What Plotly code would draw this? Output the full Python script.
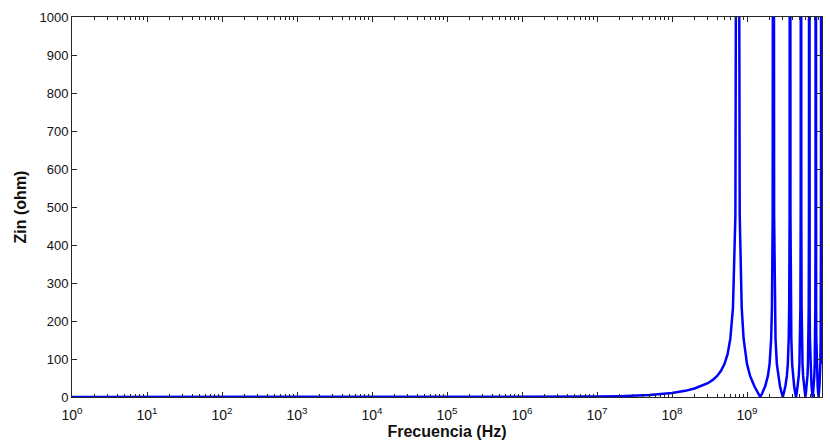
import plotly.graph_objects as go

# Input impedance magnitude of the line versus frequency (Hz, ohm)
freq_hz = [
    1e0, 1e1, 1e2, 1e3, 1e4, 1e5, 1e6, 1e7, 2e7, 5e7,
    1.0e8, 1.5e8, 2.0e8, 2.5e8, 3.0e8, 3.5e8, 4.0e8, 4.5e8, 5.0e8, 5.5e8,
    6.0e8, 6.5e8, 7.0e8, 7.5e8, 8.0e8, 8.5e8, 9.0e8, 1.0e9, 1.1e9, 1.25e9,
    1.4e9, 1.5e9,
    1.6e9, 1.75e9, 1.9e9, 2.0e9, 2.1e9, 2.15e9, 2.2e9, 2.25e9, 2.3e9, 2.35e9,
    2.4e9, 2.5e9, 2.6e9, 2.75e9, 2.9e9, 3.0e9,
    3.1e9, 3.25e9, 3.4e9, 3.5e9, 3.6e9, 3.65e9, 3.7e9, 3.75e9, 3.8e9, 3.85e9,
    3.9e9, 4.0e9, 4.1e9, 4.25e9, 4.4e9, 4.5e9,
    4.6e9, 4.75e9, 4.9e9, 5.0e9, 5.1e9, 5.15e9, 5.2e9, 5.25e9, 5.3e9, 5.35e9,
    5.4e9, 5.5e9, 5.6e9, 5.75e9, 5.9e9, 6.0e9,
    6.1e9, 6.25e9, 6.4e9, 6.5e9, 6.6e9, 6.65e9, 6.7e9, 6.75e9, 6.8e9, 6.85e9,
    6.9e9, 7.0e9, 7.1e9, 7.25e9, 7.4e9, 7.5e9,
    7.6e9, 7.75e9, 7.9e9, 8.0e9, 8.1e9, 8.15e9, 8.2e9, 8.25e9, 8.3e9, 8.35e9,
    8.4e9, 8.5e9, 8.6e9, 8.75e9, 8.9e9, 9.0e9,
    9.1e9, 9.25e9, 9.4e9, 9.5e9, 9.6e9, 9.65e9, 9.7e9, 9.75e9, 9.8e9, 9.85e9,
    9.9e9, 1.0e10,
]
zin_ohm = [
    0.0, 0.0, 0.0, 0.0, 0.0, 0.0, 0.1, 1.0, 2.1, 5.2,
    10.6, 16.2, 22.3, 28.9, 36.3, 45.0, 55.5, 68.8, 86.6, 112,
    154, 235, 476, 3000, 476, 235, 154, 86.6, 55.5, 28.9,
    10.6, 0.0,
    10.6, 28.9, 55.5, 86.6, 154, 235, 476, 3000, 476, 235,
    154, 86.6, 55.5, 28.9, 10.6, 0.0,
    10.6, 28.9, 55.5, 86.6, 154, 235, 476, 3000, 476, 235,
    154, 86.6, 55.5, 28.9, 10.6, 0.0,
    10.6, 28.9, 55.5, 86.6, 154, 235, 476, 3000, 476, 235,
    154, 86.6, 55.5, 28.9, 10.6, 0.0,
    10.6, 28.9, 55.5, 86.6, 154, 235, 476, 3000, 476, 235,
    154, 86.6, 55.5, 28.9, 10.6, 0.0,
    10.6, 28.9, 55.5, 86.6, 154, 235, 476, 3000, 476, 235,
    154, 86.6, 55.5, 28.9, 10.6, 0.0,
    10.6, 28.9, 55.5, 86.6, 154, 235, 476, 3000, 476, 235,
    154, 86.6,
]

x_tick_vals = [1e0, 1e1, 1e2, 1e3, 1e4, 1e5, 1e6, 1e7, 1e8, 1e9, 1e10]
x_tick_text = ["10<sup>%d</sup>" % n for n in range(11)]
y_ticks = [0, 100, 200, 300, 400, 500, 600, 700, 800, 900, 1000]

font_family = "Liberation Sans, Arial, sans-serif"

fig = go.Figure()
fig.add_trace(go.Scatter(
    x=freq_hz, y=zin_ohm, mode="lines",
    line=dict(color="#0000ff", width=2.5),
    showlegend=False,
))

axis_common = dict(
    showline=True, linecolor="#262626", linewidth=1, mirror="allticks",
    ticks="inside", tickcolor="#262626", showgrid=False, zeroline=False,
)

fig.update_xaxes(
    type="log", range=[0, 10], tickvals=x_tick_vals, ticktext=x_tick_text,
    ticklen=5, ticklabelstandoff=5,
    tickfont=dict(family=font_family, size=14, color="#111111"),
    minor=dict(ticks="inside", ticklen=3, tickcolor="#262626", showgrid=False,
               dtick="D1"),
    title=dict(text="<b>Frecuencia (Hz)</b>", standoff=4,
               font=dict(family=font_family, size=16, color="#111111")),
    **axis_common,
)
fig.update_yaxes(
    range=[0, 1000], tickvals=y_ticks, ticklen=5,
    tickfont=dict(family=font_family, size=13, color="#111111"),
    title=dict(text="<b>Zin (ohm)</b>", standoff=8,
               font=dict(family=font_family, size=16, color="#111111")),
    **axis_common,
)

fig.update_layout(
    width=830, height=446,
    margin=dict(l=72, r=8, t=17, b=49),
    paper_bgcolor="white", plot_bgcolor="white",
)

fig.write_html("out.html")
